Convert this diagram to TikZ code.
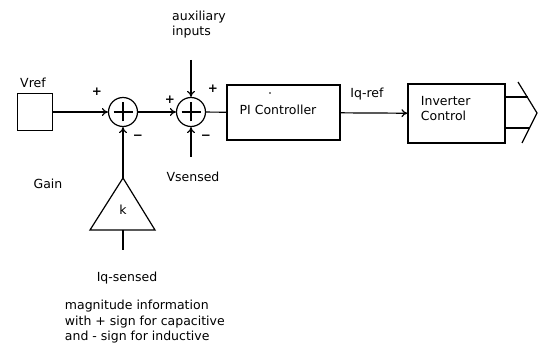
\documentclass[tikz,border=0pt]{standalone}
\usepackage{fontspec}
\setmainfont{DejaVu Sans}
\usetikzlibrary{arrows.meta}
\begin{document}
\begin{tikzpicture}[x=1pt,y=-1pt,line width=1.2pt,
		font=\fontsize{12.5}{15}\selectfont,
		>={To[length=6pt,width=8pt]},
		block/.style={draw,rectangle,inner sep=0pt},
		summer/.style={draw,circle,minimum size=29pt,inner sep=0pt,
			path picture={\draw([xshift=-9.5pt]path picture bounding box.center)--([xshift=9.5pt]path picture bounding box.center)
				([yshift=-9.5pt]path picture bounding box.center)--([yshift=9.5pt]path picture bounding box.center);}},
		sign/.style={font=\fontsize{12}{14}\selectfont\bfseries,inner sep=0pt}]
	\path[use as bounding box](0,0)rectangle(540,347);
	% blocks
	\node[block,minimum width=35pt,minimum height=37pt](vref)at(35,112){};
	\node[summer](sum1)at(123,112){};
	\node[summer](sum2)at(191,112){};
	\node[block,minimum width=113pt,minimum height=55pt](pi)at(283.5,112.5){};
	\node[block,minimum width=97pt,minimum height=59pt](inv)at(456.5,113.5){};
	\draw(90,230)--(123,178)--(155,230)--cycle;
	\coordinate(tritop)at(123,178);
	\coordinate(tribase)at(123,230);
	\coordinate(iqin)at(123,250);
	\coordinate(aux)at(191,60);
	\coordinate(vs)at(191,157);
	% connectors
	\draw[->](vref)--(sum1);
	\draw[->](sum1)--(sum2);
	\draw[->](aux)--(sum2.north);
	\draw[->](vs)--(sum2.south);
	\draw[->](tritop)--(sum1.south);
	\draw(tribase)--(iqin);
	\draw(sum2)--(pi);
	\draw[->](pi)--(inv);
	\draw(inv.east|-0,97)--(528,97) (inv.east|-0,128)--(529,128);
	\draw(518,82)--(537,113)--(522,143);
	% signs
	\node[sign]at(97,92){+};
	\node[sign]at(138,137){−};
	\node[sign]at(170,100){+};
	\node[sign]at(213,89){+};
	\node[sign]at(206,137){−};
	% labels
	\node at(33,83){Vref};
	\node[align=left]at(199,25){auxiliary\\inputs};
	\node at(278,110){PI Controller};
	\fill(270,93)circle(0.9);
	\node at(367,94){Iq-ref};
	\node[align=left,anchor=west]at(417,109){Inverter\\Control};
	\node at(48,184){Gain};
	\node at(193,177){Vsensed};
	\node at(123,210){k};
	\node at(127,278){Iq-sensed};
	\node[align=left,anchor=west,font=\fontsize{12.5}{15.5}\selectfont]at(61,322){magnitude information\\with + sign for capacitive\\and - sign for inductive};
\end{tikzpicture}
\end{document}
